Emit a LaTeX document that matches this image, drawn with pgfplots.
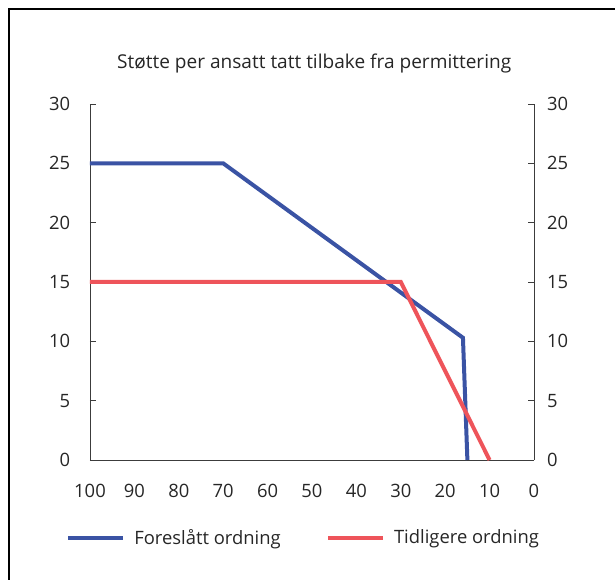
\documentclass[border=0pt]{standalone}
\usepackage{fontspec}
\setmainfont{Open Sans}
\usepackage{pgfplots}
\pgfplotsset{compat=1.18}
\definecolor{myblue}{RGB}{58,83,164}
\definecolor{myred}{RGB}{238,84,90}
\definecolor{axgray}{RGB}{60,60,60}
\newcommand{\fs}{\fontsize{13.8pt}{16pt}\selectfont}
\begin{document}
\fs
\begin{tikzpicture}
\useasboundingbox (0pt,0pt) rectangle (461.25pt,435pt);
\draw[line width=2pt] (6.75pt,0pt) -- (6.75pt,428.25pt) -- (461.25pt,428.25pt);
\begin{axis}[
  at={(67.5pt,90pt)}, anchor=south west,
  scale only axis, width=333pt, height=267pt,
  xmin=0, xmax=100, x dir=reverse,
  ymin=0, ymax=30,
  axis x line=bottom, axis y line=left,
  axis line style={-, draw=axgray, line width=0.6pt},
  xtick={0,10,...,100}, ytick={0,5,...,30},
  tick align=inside, major tick length=4.5pt,
  x tick style={draw=none},
  y tick style={draw=axgray, line width=0.6pt},
  tick label style={font=\fs, text=black!85},
  /pgf/number format/assume math mode=true,
  xticklabel style={yshift=-13pt},
  yticklabel style={xshift=-10pt},
  title={Støtte per ansatt tatt tilbake fra permittering},
  title style={at={(0.505,1)}, anchor=center, yshift=24pt, font=\fontsize{14.3pt}{16pt}\selectfont, text=black!85},
  legend columns=2,
  legend style={at={(0.482,-0.219)}, anchor=center, draw=none, fill=none,
    font=\fs, text=black!85,
    /tikz/every odd column/.append style={column sep=5pt},
    /tikz/every even column/.append style={column sep=32pt}},
  legend image code/.code={\draw[#1] (0pt,0pt) -- (41pt,0pt);},
  clip=false,
]
\addplot[myblue, line width=3pt] coordinates {(100,25) (70,25) (16,10.3) (15,0)};
\addlegendentry{Foreslått ordning}
\addplot[myred, line width=3pt] coordinates {(100,15) (30,15) (10,0)};
\addlegendentry{Tidligere ordning}
\end{axis}
\begin{axis}[
  at={(67.5pt,90pt)}, anchor=south west,
  scale only axis, width=333pt, height=267pt,
  xmin=0, xmax=100, x dir=reverse,
  ymin=0, ymax=30,
  axis x line=none, axis y line=right,
  axis line style={-, draw=axgray, line width=0.6pt},
  ytick={0,5,...,30},
  tick align=inside, major tick length=4.5pt,
  y tick style={draw=axgray, line width=0.6pt},
  tick label style={font=\fs, text=black!85},
  /pgf/number format/assume math mode=true,
  yticklabel style={xshift=5pt},
]
\end{axis}
\end{tikzpicture}
\end{document}
